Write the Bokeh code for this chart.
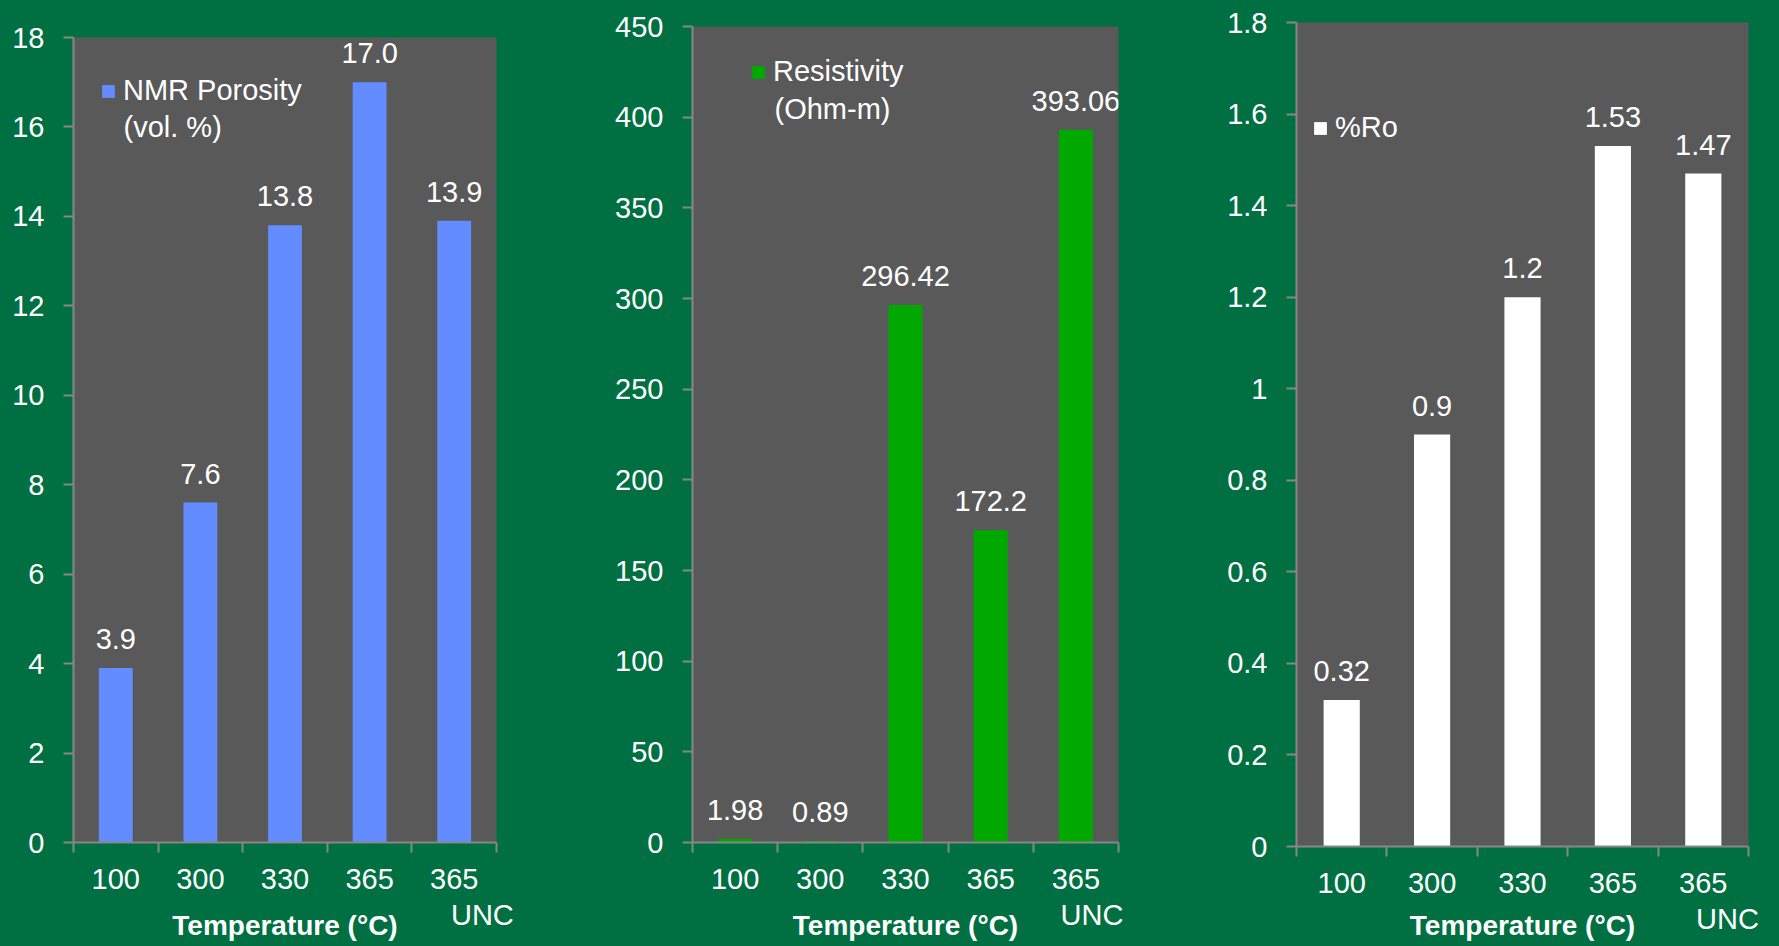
from jinja2 import Template
from bokeh.plotting import figure
from bokeh.core.properties import value
from bokeh.models import (Range1d, FixedTicker, ColumnDataSource, LabelSet,
                          Label, Legend, LegendItem)
from bokeh.embed import file_html
from bokeh.resources import INLINE

# ---- data -------------------------------------------------------------
categories = ["100", "300", "330", "365", "365 UNC"]

porosity = [3.9, 7.6, 13.8, 17.0, 13.9]            # NMR porosity, vol. %
resistivity = [1.98, 0.89, 296.42, 172.2, 393.06]  # Ohm-m
vitrinite_ro = [0.32, 0.9, 1.2, 1.53, 1.47]        # %Ro

porosity_legend = ["NMR Porosity", "(vol. %)"]
resistivity_legend = ["Resistivity", "(Ohm-m)"]
ro_legend = ["%Ro"]

porosity_ticks = [0, 2, 4, 6, 8, 10, 12, 14, 16, 18]
porosity_tick_labels = ["0", "2", "4", "6", "8", "10", "12", "14", "16", "18"]
resistivity_ticks = [0, 50, 100, 150, 200, 250, 300, 350, 400, 450]
resistivity_tick_labels = ["0", "50", "100", "150", "200", "250", "300", "350", "400", "450"]
ro_ticks = [0, 0.2, 0.4, 0.6, 0.8, 1, 1.2, 1.4, 1.6, 1.8]
ro_tick_labels = ["0", "0.2", "0.4", "0.6", "0.8", "1", "1.2", "1.4", "1.6", "1.8"]

# ---- styling ----------------------------------------------------------
BG = "#007042"
PLOT_BG = "#595959"
AXIS = "#878787"
FONT = "Liberation Sans"
FS = "29px"
NBSP = "\u00a0"

# each panel is its own root, laid side by side on a green page
PAGE = Template("""<!DOCTYPE html>
<html lang="en">
  <head>
    <meta charset="utf-8">
    <title>{{ title if title else "Bokeh Plot" }}</title>
    {{ bokeh_js }}
    {{ bokeh_css }}
    <style>
      html, body { margin: 0; padding: 0; background: #007042; overflow: hidden; }
      .panels { display: flex; flex-direction: row; align-items: flex-start; }
    </style>
  </head>
  <body>
    <div class="panels">
      {{ plot_div }}
    </div>
    {{ plot_script }}
  </body>
</html>
""")


def make_panel(values, labels, color, ticks, tick_labels, legend_lines,
               bl, fw, br, bt, fh, bb, leg_x, leg_top, line2_x, line2_mid,
               unc_pad, title_standoff):
    n = len(categories)
    centers = [i + 0.5 for i in range(n)]
    bounds = [float(i) for i in range(n + 1)]

    p = figure(frame_width=fw, frame_height=fh,
               min_border_left=bl, min_border_right=br,
               min_border_top=bt, min_border_bottom=bb,
               x_range=Range1d(0, n), y_range=Range1d(ticks[0], ticks[-1]),
               output_backend="svg", toolbar_location=None,
               background_fill_color=PLOT_BG, border_fill_color=BG,
               outline_line_color=None)
    p.xgrid.visible = False
    p.ygrid.visible = False

    src = ColumnDataSource(dict(x=centers, top=values, label=labels))
    r = p.vbar(x="x", top="top", width=0.4, bottom=0, source=src,
               fill_color=color, line_color=None)

    p.add_layout(LabelSet(x="x", y="top", text="label", source=src,
                          y_offset=19, text_align="center",
                          text_baseline="alphabetic",
                          text_font=value(FONT), text_font_size=value(FS),
                          text_color="white"))

    # x axis: category names at centres, tick marks at category boundaries
    def cat_label(cat):
        parts = cat.split(" ")
        if len(parts) == 1:
            return parts[0]
        return parts[0] + "\n" + NBSP * unc_pad + " ".join(parts[1:])

    xa = p.xaxis[0]
    xa.ticker = FixedTicker(ticks=centers, minor_ticks=bounds)
    xa.major_label_overrides = {c: cat_label(cat)
                                for c, cat in zip(centers, categories)}
    xa.major_tick_line_color = None
    xa.major_tick_out = 0
    xa.major_tick_in = 0
    xa.minor_tick_line_color = AXIS
    xa.minor_tick_line_width = 2
    xa.minor_tick_out = 10
    xa.minor_tick_in = 0
    xa.major_label_standoff = 10
    xa.axis_line_color = AXIS
    xa.axis_line_width = 2
    xa.major_label_text_font = FONT
    xa.major_label_text_font_size = FS
    xa.major_label_text_line_height = 1.14
    xa.major_label_text_color = "white"
    xa.axis_label = "Temperature (°C)"
    xa.axis_label_text_font = FONT
    xa.axis_label_text_font_size = "28px"
    xa.axis_label_text_font_style = "bold"
    xa.axis_label_text_color = "white"
    xa.axis_label_standoff = title_standoff

    ya = p.yaxis[0]
    ya.ticker = FixedTicker(ticks=ticks)
    ya.major_label_overrides = dict(zip(ticks, tick_labels))
    ya.minor_tick_line_color = None
    ya.major_tick_line_color = AXIS
    ya.major_tick_line_width = 2
    ya.major_tick_out = 10
    ya.major_tick_in = 0
    ya.major_label_standoff = 19
    ya.axis_line_color = AXIS
    ya.axis_line_width = 2
    ya.major_label_text_font = FONT
    ya.major_label_text_font_size = FS
    ya.major_label_text_color = "white"

    # legend: swatch with the first line of the series name
    legend = Legend(items=[LegendItem(label=legend_lines[0], renderers=[r])],
                    location=(leg_x, fh - leg_top - 33),
                    orientation="vertical",
                    glyph_width=16, glyph_height=16, label_standoff=7,
                    padding=0, spacing=0, margin=0,
                    border_line_color=None, background_fill_alpha=0,
                    label_text_font=FONT, label_text_font_size=FS,
                    label_text_color="white")
    p.add_layout(legend, "center")
    # continuation line of the series name
    if len(legend_lines) > 1:
        p.add_layout(Label(x=0, y=ticks[-1], x_offset=line2_x,
                           y_offset=-line2_mid, text=legend_lines[1],
                           text_align="left", text_baseline="middle",
                           text_font=FONT, text_font_size=FS,
                           text_color="white"))
    return p


p1 = make_panel(porosity, [f"{v:.1f}" for v in porosity], "#628CFF",
                porosity_ticks, porosity_tick_labels, porosity_legend,
                73, 423, 94, 37, 805, 104, 27, 37, 50, 89, 7, -24)
p2 = make_panel(resistivity, [f"{v:g}" for v in resistivity], "#00A800",
                resistivity_ticks, resistivity_tick_labels, resistivity_legend,
                102, 426, 72, 26, 816, 104, 58, 29, 82, 82, 4, -24)
p3 = make_panel(vitrinite_ro, [f"{v:g}" for v in vitrinite_ro], "#FFFFFF",
                ro_ticks, ro_tick_labels, ro_legend,
                106, 452, 31, 22, 824, 100, 16, 89, 0, 0, 6, -28)

open("out.html", "w").write(file_html([p1, p2, p3], INLINE, template=PAGE))
